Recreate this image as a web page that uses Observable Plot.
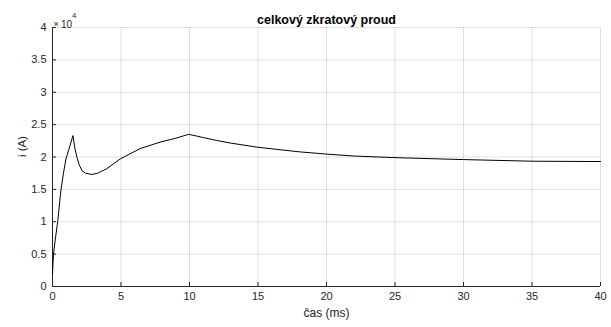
<!DOCTYPE html>
<html>
<head>
<meta charset="utf-8">
<script src="https://cdn.jsdelivr.net/npm/d3@7"></script>
<script src="https://cdn.jsdelivr.net/npm/@observablehq/plot@0.6"></script>
<style>
  html, body { margin: 0; padding: 0; background: #fff; }
  #chart svg { display: block; font-family: "Liberation Sans", Arial, sans-serif; }
</style>
</head>
<body>
<div id="chart"></div>
<script>
// time (ms)
const timeMs = [0, 0.07, 0.2, 0.39, 0.61, 0.8, 0.98, 1.2, 1.49, 1.62, 1.78, 1.95, 2.15, 2.4, 2.87, 3.3, 3.97, 4.94, 6.4, 7.86, 9.0, 9.93, 10.5, 11, 12, 13, 15, 18, 20, 22, 25, 30, 35, 40];
// total short-circuit current (A)
const currentA = [1900, 5000, 7200, 10200, 14800, 17500, 19700, 21200, 23300, 21500, 20000, 18800, 17900, 17500, 17300, 17500, 18200, 19700, 21300, 22300, 22900, 23500, 23250, 23000, 22550, 22150, 21500, 20800, 20450, 20150, 19900, 19600, 19350, 19300];
const xTicks = [0, 5, 10, 15, 20, 25, 30, 35, 40];
const yTicks = [0, 5000, 10000, 15000, 20000, 25000, 30000, 35000, 40000];
const titleText = "celkový zkratový proud";
const xLabel = "čas (ms)";
const yLabel = "i (A)";

const data = timeMs.map((t, k) => ({t, i: currentA[k]}));
const axisColor = "#262626";

const plot = Plot.plot({
  width: 611,
  height: 327,
  marginLeft: 52,
  marginRight: 11,
  marginTop: 27,
  marginBottom: 41,
  style: {fontFamily: "'Liberation Sans', Arial, sans-serif", fontSize: "11px", color: axisColor},
  x: {domain: [0, 40]},
  y: {domain: [0, 40000]},
  marks: [
    Plot.gridX(xTicks, {stroke: "#000", strokeOpacity: 0.12}),
    Plot.gridY(yTicks, {stroke: "#000", strokeOpacity: 0.12}),
    Plot.axisX(xTicks, {tickSize: -4, tickPadding: 10, label: null, stroke: axisColor, fill: axisColor, fontSize: 11}),
    Plot.axisY(yTicks, {tickSize: -4, tickPadding: 10, label: null, tickFormat: d => d3.format("~g")(d / 1e4), stroke: axisColor, fill: axisColor, fontSize: 11}),
    Plot.ruleX([0], {stroke: axisColor}),
    Plot.ruleY([0], {stroke: axisColor}),
    Plot.line(data, {x: "t", y: "i", stroke: "#000", strokeWidth: 1}),
    Plot.text([titleText], {frameAnchor: "top", dy: -12, fontWeight: "bold", fontSize: 12.5, fill: "#000"}),
    Plot.text([xLabel], {frameAnchor: "bottom", dy: 30, fontSize: 12, fill: axisColor}),
    Plot.text([yLabel], {frameAnchor: "left", dx: -30.5, rotate: -90, fontSize: 11.5, fill: axisColor}),
    Plot.text(["×"], {frameAnchor: "top-left", dx: 1, dy: -6.5, textAnchor: "start", fontSize: 9, fill: axisColor}),
    Plot.text(["10"], {frameAnchor: "top-left", dx: 8.5, dy: -6.7, textAnchor: "start", fontSize: 10, fill: axisColor}),
    Plot.text(["4"], {frameAnchor: "top-left", dx: 19.5, dy: -15, textAnchor: "start", fontSize: 8, fill: axisColor})
  ]
});
document.getElementById("chart").appendChild(plot);
</script>
</body>
</html>
